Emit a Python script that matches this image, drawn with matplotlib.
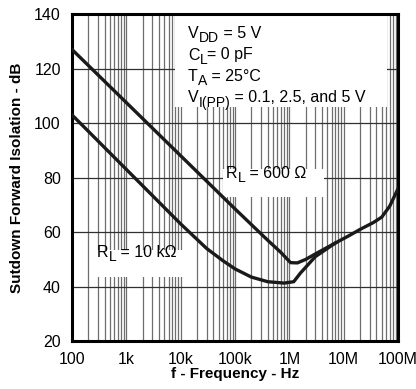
import matplotlib.pyplot as plt

plt.rcParams['font.family'] = ['Liberation Sans', 'DejaVu Sans']

# frequency (Hz) / isolation (dB)
f_600 = [100, 1e3, 1e4, 1e5, 4e5, 7e5, 1.05e6, 1.4e6, 2e6, 3.2e6, 7e6,
         1.2e7, 2e7, 3.5e7, 5e7, 7e7, 1e8]
db_600 = [127, 107.5, 88, 68.5, 57, 52.5, 48.8, 48.7, 50, 52.3, 56,
          58.5, 61, 63.5, 65.5, 69.5, 76]

f_10k = [100, 1e3, 1e4, 3e4, 6e4, 1e5, 2e5, 4e5, 8e5, 1.2e6, 1.6e6,
         3e6, 7e6]
db_10k = [103, 83, 63, 54, 49.5, 46.5, 43.5, 41.8, 41.3, 41.8, 45,
          51, 56]

xticks = [1e2, 1e3, 1e4, 1e5, 1e6, 1e7, 1e8]
xlabels = ['100', '1k', '10k', '100k', '1M', '10M', '100M']
yticks = [20, 40, 60, 80, 100, 120, 140]

# (main, subscript, rest)
conds = [('V', 'DD', ' = 5 V'), ('C', 'L', '= 0 pF'), ('T', 'A', ' = 25°C'),
         ('V', 'I(PP)', ' = 0.1, 2.5, and 5 V')]

fig = plt.figure(figsize=(4.16, 3.89), dpi=100)
ax = fig.add_axes([0.173, 0.123, 0.784, 0.841])

# grid
minor = [m * 10**d for d in range(2, 8) for m in range(1, 10)]
for x in minor:
    ax.axvline(x, color='#6e6e6e', lw=0.9, zorder=1)
for y in yticks:
    ax.axhline(y, color='#303030', lw=0.9, zorder=1)

ax.plot(f_600, db_600, color='#1a1a1a', lw=2.4, zorder=3)
ax.plot(f_10k, db_10k, color='#1a1a1a', lw=2.4, zorder=3)

ax.set_xscale('log')
ax.set_xlim(1e2, 1e8)
ax.set_ylim(20, 140)
ax.set_xticks(xticks)
ax.set_xticklabels(xlabels)
ax.set_yticks(yticks)
ax.minorticks_off()
ax.tick_params(length=0, labelsize=11.5, pad=8)
for s in ax.spines.values():
    s.set_linewidth(2.2)

# white areas behind the labels
ax.add_patch(plt.Rectangle((0.316, 0.715), 0.65, 0.28, transform=ax.transAxes,
                           facecolor='white', edgecolor='none', zorder=2))
ax.add_patch(plt.Rectangle((0.462, 0.44), 0.31, 0.085, transform=ax.transAxes,
                           facecolor='white', edgecolor='none', zorder=2))
ax.add_patch(plt.Rectangle((0.075, 0.195), 0.265, 0.085, transform=ax.transAxes,
                           facecolor='white', edgecolor='none', zorder=2))

renderer = fig.canvas.get_renderer()


def sub_text(x, y, main, sub, rest):
    # x, y in pixels from top-left, y = baseline of main text
    t = fig.text(x / 416, 1 - y / 389, main, fontsize=11.5, va='baseline')
    x1 = t.get_window_extent(renderer).x1
    s = fig.text(x1 / 416, 1 - (y + 4) / 389, sub, fontsize=10, va='baseline')
    x2 = s.get_window_extent(renderer).x1
    fig.text(x2 / 416, 1 - y / 389, rest, fontsize=11.5, va='baseline')


for i, (m, sb, r) in enumerate(conds):
    sub_text(188, 38 + i * 21.5, m, sb, r)

sub_text(226, 178, 'R', 'L', ' = 600 Ω')
sub_text(97, 257, 'R', 'L', ' = 10 kΩ')

ax.set_xlabel('f - Frequency - Hz', fontsize=11, fontweight='bold', labelpad=0)
ax.set_ylabel('Sutdown Forward Isolation - dB', fontsize=11, fontweight='bold',
              labelpad=7)

fig.savefig('out.png', dpi=100)
